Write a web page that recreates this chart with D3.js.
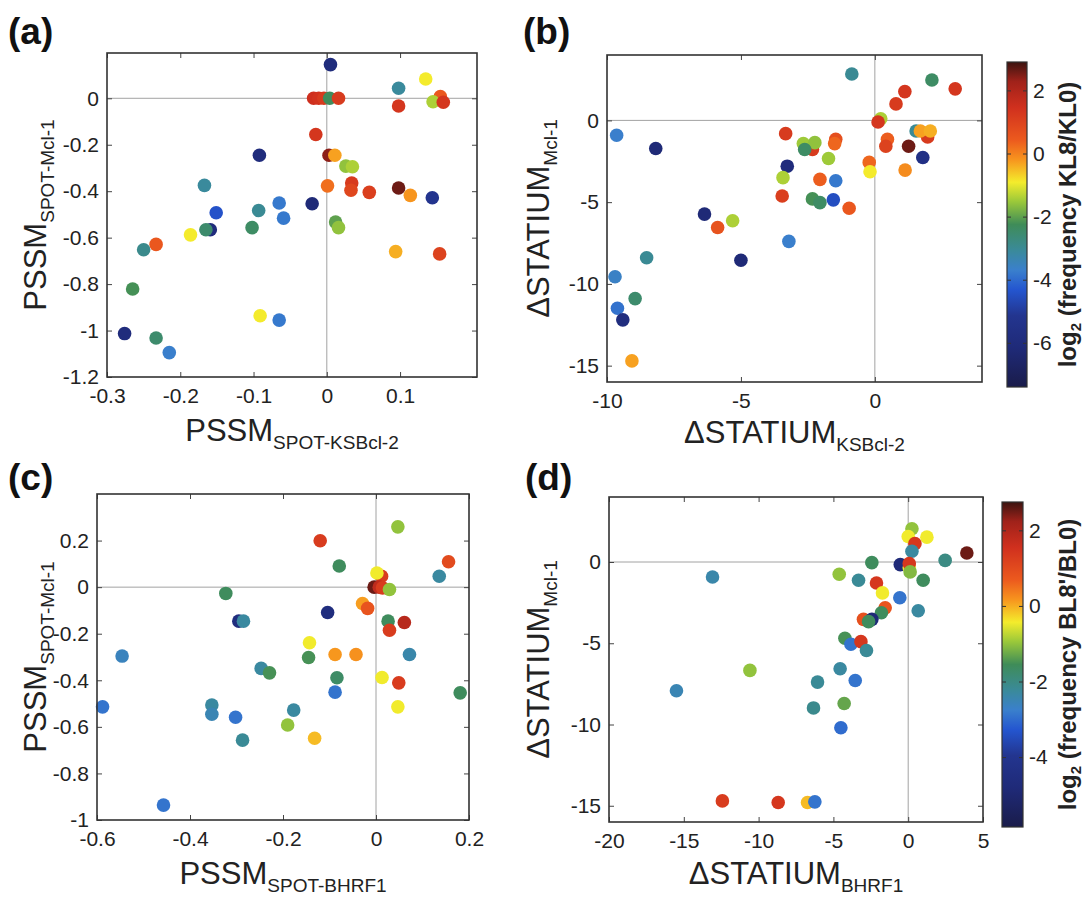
<!DOCTYPE html>
<html>
<head>
<meta charset="utf-8">
<script src="https://cdn.jsdelivr.net/npm/d3@7"></script>
<style>
body { margin: 0; background: #fff; }
svg { font-family: "Liberation Sans", Arial, sans-serif; }
</style>
</head>
<body>
<svg id="chart" width="1086" height="900"></svg>
<script>
// points are [x, y, log2 frequency]
var pointsA = [
  [0.005, 0.145, -6], [-0.018, 0, 1.5], [-0.011, 0, 1.4], [-0.004, 0, 1.2], [0.004, 0, -2.3], [0.016, 0, 1.2],
  [0.098, 0.043, -3.1], [0.135, 0.083, -0.9], [0.098, -0.033, 1.3], [0.155, 0.007, 0.5], [0.145, -0.015, -1.4],
  [0.159, -0.017, 1.3], [-0.015, -0.156, 1.3], [0.003, -0.245, 2.4], [0.011, -0.245, -0.3], [0.026, -0.292, -1.6],
  [0.035, -0.295, -1.4], [0.001, -0.377, 0.2], [0.034, -0.365, 1.2], [0.033, -0.396, 0.9], [0.058, -0.405, 1.1],
  [0.098, -0.386, 2.6], [0.114, -0.418, -0.2], [0.144, -0.428, -5.2], [-0.020, -0.454, -6.2], [-0.092, -0.245, -6],
  [-0.065, -0.451, -3.8], [-0.059, -0.516, -3.8], [-0.093, -0.483, -3.0], [-0.102, -0.557, -2.4], [0.012, -0.533, -2.0],
  [0.016, -0.557, -1.6], [0.094, -0.66, -0.4], [0.154, -0.67, 1.0], [-0.167, -0.375, -3.1], [-0.151, -0.493, -4.4],
  [-0.159, -0.566, -6], [-0.165, -0.566, -2.5], [-0.186, -0.588, -0.9], [-0.233, -0.629, 0.5], [-0.25, -0.652, -2.9],
  [-0.265, -0.821, -2.2], [-0.276, -1.013, -6], [-0.233, -1.032, -2.5], [-0.215, -1.095, -3.7], [-0.091, -0.936, -0.9],
  [-0.065, -0.955, -3.8]
];
var pointsB = [
  [-9.64, -0.91, -3.7], [-8.18, -1.72, -6.2], [-6.36, -5.73, -6.2], [-5.87, -6.55, 0.6], [-5.31, -6.14, -1.4],
  [-3.33, -0.81, 1.2], [-3.27, -2.8, -6], [-3.43, -3.5, -1.4], [-3.46, -4.62, 1.1], [-3.21, -7.4, -3.7],
  [-8.52, -8.4, -3.0], [-5.0, -8.55, -6.2], [-9.7, -9.56, -3.6], [-9.61, -11.49, -3.9], [-9.41, -12.2, -5.9],
  [-8.95, -10.9, -2.5], [-9.07, -14.71, -0.3], [-2.33, -4.8, -2.2], [-2.05, -5.03, -2.4], [-1.55, -4.86, -4.5],
  [-0.96, -5.37, 0.5], [-2.05, -3.61, 0.4], [-1.46, -3.69, -3.8], [-0.86, 2.84, -3.0], [2.13, 2.47, -2.4],
  [3.0, 1.93, 1.3], [1.12, 1.76, 1.3], [0.79, 1.01, 1.2], [0.22, 0.1, -1.4], [0.12, -0.1, 1.3],
  [-2.33, -1.78, 1.2], [-2.67, -1.42, -1.5], [-2.24, -1.36, -1.6], [-2.62, -1.78, -2.4], [-1.46, -1.15, 0.7],
  [-1.5, -1.42, 0.3], [-1.73, -2.33, -1.5], [-0.21, -2.57, 0.3], [-0.18, -3.14, -0.9], [0.47, -1.15, 0.4],
  [0.41, -1.58, 1.0], [1.26, -1.58, 2.6], [1.79, -2.27, -5.6], [1.13, -3.04, -0.1], [1.97, -1.01, 1.2],
  [1.54, -0.65, -3.0], [1.70, -0.65, -0.3], [2.07, -0.65, -0.4]
];
var pointsC = [
  [0.047, 0.259, -1.0], [-0.12, 0.199, 1.3], [0.156, 0.109, 1.0], [-0.079, 0.091, -1.6], [0.136, 0.047, -2.3],
  [0.012, 0.047, 1.3], [0.002, 0.061, -0.45], [-0.004, 0, 2.5], [0.007, 0, 1.8], [0.014, -0.003, 1.3],
  [0.029, -0.01, -1.0], [-0.323, -0.027, -1.6], [-0.029, -0.07, 0.1], [-0.018, -0.091, 0.8], [-0.104, -0.109, -4.6],
  [-0.295, -0.146, -4.6], [-0.285, -0.146, -2.3], [0.026, -0.146, -1.6], [0.029, -0.185, 1.3], [0.061, -0.152, 1.9],
  [-0.143, -0.239, -0.45], [-0.145, -0.302, -1.5], [-0.088, -0.289, 0.15], [-0.043, -0.289, 0.2], [0.072, -0.289, -2.4],
  [-0.546, -0.296, -2.6], [-0.247, -0.349, -2.3], [-0.229, -0.368, -1.5], [-0.084, -0.389, -1.7], [0.013, -0.388, -0.45],
  [0.049, -0.411, 1.3], [0.181, -0.454, -1.6], [-0.088, -0.451, -2.9], [-0.588, -0.514, -2.9], [-0.353, -0.506, -2.3],
  [-0.353, -0.546, -2.5], [-0.302, -0.559, -2.9], [-0.177, -0.528, -2.3], [-0.190, -0.592, -1.0], [0.047, -0.514, -0.45],
  [-0.132, -0.649, -0.1], [-0.287, -0.657, -2.2], [-0.457, -0.936, -2.9]
];
var pointsD = [
  [0.25, 2.05, -1.0], [0.0, 1.57, -0.45], [1.25, 1.53, -0.45], [0.45, 1.13, 1.4], [0.25, 0.66, -2.3],
  [3.92, 0.55, 2.5], [2.47, 0.1, -2.0], [-2.43, -0.04, -1.6], [-0.53, -0.16, -4.8], [0.07, -0.35, -0.45],
  [0.07, -0.1, 1.4], [0.13, -0.61, -1.1], [-4.61, -0.75, -1.0], [-3.32, -1.12, -2.2], [1.0, -1.12, -1.6],
  [-2.12, -1.29, 1.4], [-1.72, -1.9, -0.45], [-0.56, -2.2, -2.9], [0.67, -3.0, -2.3], [-1.54, -2.82, 0.8],
  [-1.79, -3.12, -1.6], [-2.99, -3.53, 0.9], [-2.43, -3.53, -4.8], [-2.65, -3.67, -1.6], [-4.23, -4.69, -1.5],
  [-3.83, -5.06, -2.9], [-3.16, -4.9, 1.4], [-2.79, -5.45, -2.2], [-4.55, -6.57, -2.3], [-3.54, -7.29, -2.9],
  [-6.06, -7.39, -2.2], [-6.33, -8.98, -2.1], [-4.28, -8.71, -1.3], [-4.5, -10.2, -3.0], [-10.58, -6.67, -1.0],
  [-13.08, -0.92, -2.4], [-15.49, -7.92, -2.5], [-12.42, -14.7, 1.3], [-8.69, -14.8, 1.4], [-6.73, -14.8, -0.1],
  [-6.24, -14.76, -2.9]
];

// tick values
var ticksAx = [-0.3, -0.2, -0.1, 0, 0.1];
var ticksAy = [-1.2, -1, -0.8, -0.6, -0.4, -0.2, 0];
var ticksBx = [-10, -5, 0];
var ticksBy = [-15, -10, -5, 0];
var ticksCx = [-0.6, -0.4, -0.2, 0, 0.2];
var ticksCy = [-1, -0.8, -0.6, -0.4, -0.2, 0, 0.2];
var ticksDx = [-20, -15, -10, -5, 0, 5];
var ticksDy = [-15, -10, -5, 0];
var ticksBar1 = [-6, -4, -2, 0, 2];
var ticksBar2 = [-4, -2, 0, 2];

// colour map (muted jet, as printed)
var cmapT = [0, 0.12, 0.22, 0.30, 0.36, 0.42, 0.50, 0.57, 0.63, 0.70, 0.76, 0.86, 0.94, 1];
var cmapC = ["#1a1c4a", "#1f2a78", "#23358f", "#2456d0", "#3a80cc", "#3a8a9a", "#3f8c58",
             "#9ac83a", "#f4ec2c", "#f7941e", "#ec5a1e", "#d0301e", "#a0221a", "#3c1410"];
var jet = d3.scaleLinear().domain(cmapT).range(cmapC).clamp(true);

var bar1Domain = [-7.4, 2.9];
var bar2Domain = [-5.85, 2.75];

var svg = d3.select("#chart");
var fmt = function(d) { return String(+d.toFixed(2)); };

function colorFor(dom) {
  var n = d3.scaleLinear().domain(dom).range([0, 1]);
  return function(v) { return jet(n(v)); };
}

function addTitle(g, x, y, main, sub, rotate) {
  var t = g.append("text")
    .attr("text-anchor", "middle")
    .attr("fill", "#222")
    .attr("transform", "translate(" + x + "," + y + ")" + (rotate ? " rotate(-90)" : ""));
  t.append("tspan").attr("font-size", 31).text(main);
  t.append("tspan").attr("font-size", 19).attr("dy", 8).text(sub);
}

function drawPanel(p) {
  var g = svg.append("g");
  var x = d3.scaleLinear().domain(p.xDomain).range([p.left, p.left + p.w]);
  var y = d3.scaleLinear().domain(p.yDomain).range([p.top + p.h, p.top]);
  var col = colorFor(p.cDomain);

  // zero lines
  g.append("line").attr("x1", p.left).attr("x2", p.left + p.w).attr("y1", y(0)).attr("y2", y(0))
    .attr("stroke", "#8a8a8a").attr("stroke-width", 0.8);
  g.append("line").attr("x1", x(0)).attr("x2", x(0)).attr("y1", p.top).attr("y2", p.top + p.h)
    .attr("stroke", "#8a8a8a").attr("stroke-width", 0.8);

  g.selectAll("circle.pt").data(p.data).join("circle")
    .attr("class", "pt")
    .attr("cx", function(d) { return x(d[0]); })
    .attr("cy", function(d) { return y(d[1]); })
    .attr("r", 6.8)
    .attr("fill", function(d) { return col(d[2]); });

  var axB = g.append("g").attr("transform", "translate(0," + (p.top + p.h) + ")")
    .call(d3.axisBottom(x).tickValues(p.xTicks).tickSize(-5).tickPadding(11).tickFormat(fmt));
  var axL = g.append("g").attr("transform", "translate(" + p.left + ",0)")
    .call(d3.axisLeft(y).tickValues(p.yTicks).tickSize(-5).tickPadding(8).tickFormat(fmt));
  var axT = g.append("g").attr("transform", "translate(0," + p.top + ")")
    .call(d3.axisTop(x).tickValues(p.xTicks).tickSize(-5).tickFormat(""));
  var axR = g.append("g").attr("transform", "translate(" + (p.left + p.w) + ",0)")
    .call(d3.axisRight(y).tickValues(p.yTicks).tickSize(-5).tickFormat(""));
  [axB, axL, axT, axR].forEach(function(a) {
    a.select(".domain").remove();
    a.selectAll("line").attr("stroke", "#444");
    a.selectAll("text").attr("font-size", 21).attr("fill", "#222").attr("font-family", null);
  });

  g.append("rect").attr("x", p.left).attr("y", p.top).attr("width", p.w).attr("height", p.h)
    .attr("fill", "none").attr("stroke", "#333").attr("stroke-width", 1.6);

  svg.append("text").attr("x", p.labelX).attr("y", p.labelY)
    .attr("font-size", 37).attr("font-weight", "bold").attr("fill", "#111").text(p.label);

  addTitle(g, p.left + p.w / 2, p.xTitleY, p.xTitle[0], p.xTitle[1], false);
  addTitle(g, p.yTitleX, p.top + p.h / 2, p.yTitle[0], p.yTitle[1], true);
}

function drawBar(b) {
  var id = "grad" + b.id;
  var grad = svg.append("defs").append("linearGradient").attr("id", id)
    .attr("x1", 0).attr("y1", 1).attr("x2", 0).attr("y2", 0);
  grad.selectAll("stop").data(cmapT).join("stop")
    .attr("offset", function(d) { return d; })
    .attr("stop-color", function(d, i) { return cmapC[i]; });
  var y = d3.scaleLinear().domain(b.domain).range([b.top + b.h, b.top]);
  var g = svg.append("g");
  g.append("rect").attr("x", b.left).attr("y", b.top).attr("width", b.w).attr("height", b.h)
    .attr("fill", "url(#" + id + ")").attr("stroke", "#333").attr("stroke-width", 1.2);
  var ax = g.append("g").attr("transform", "translate(" + (b.left + b.w) + ",0)")
    .call(d3.axisRight(y).tickValues(b.ticks).tickSize(-4).tickPadding(6).tickFormat(fmt));
  ax.select(".domain").remove();
  ax.selectAll("line").attr("stroke", "#333");
  ax.selectAll("text").attr("font-size", 21).attr("fill", "#222").attr("font-family", null);
  var ax2 = g.append("g").attr("transform", "translate(" + b.left + ",0)")
    .call(d3.axisLeft(y).tickValues(b.ticks).tickSize(-4).tickFormat(""));
  ax2.select(".domain").remove();
  ax2.selectAll("line").attr("stroke", "#333");

  var t = g.append("text").attr("text-anchor", "middle").attr("fill", "#222")
    .attr("font-size", 24).attr("font-weight", "bold")
    .attr("transform", "translate(" + b.labelX + "," + (b.top + b.h / 2) + ") rotate(-90)");
  t.append("tspan").text("log");
  t.append("tspan").attr("font-size", 15).attr("dy", 5).text("2");
  t.append("tspan").attr("dy", -5).text(" (frequency " + b.text + ")");
}

drawPanel({
  data: pointsA, left: 107, top: 53, w: 370, h: 324,
  xDomain: [-0.3, 0.205], yDomain: [-1.2, 0.195], xTicks: ticksAx, yTicks: ticksAy, cDomain: bar1Domain,
  label: "(a)", labelX: 8, labelY: 44, xTitleY: 441, yTitleX: 46,
  xTitle: ["PSSM", "SPOT-KSBcl-2"], yTitle: ["PSSM", "SPOT-Mcl-1"]
});
drawPanel({
  data: pointsB, left: 607, top: 55, w: 375, h: 327,
  xDomain: [-10, 4], yDomain: [-16, 4], xTicks: ticksBx, yTicks: ticksBy, cDomain: bar1Domain,
  label: "(b)", labelX: 523, labelY: 44, xTitleY: 443, yTitleX: 549,
  xTitle: ["\u0394STATIUM", "KSBcl-2"], yTitle: ["\u0394STATIUM", "Mcl-1"]
});
drawPanel({
  data: pointsC, left: 97, top: 494, w: 372, h: 326,
  xDomain: [-0.6, 0.2], yDomain: [-1, 0.4], xTicks: ticksCx, yTicks: ticksCy, cDomain: bar2Domain,
  label: "(c)", labelX: 8, labelY: 490, xTitleY: 884, yTitleX: 46,
  xTitle: ["PSSM", "SPOT-BHRF1"], yTitle: ["PSSM", "SPOT-Mcl-1"]
});
drawPanel({
  data: pointsD, left: 609, top: 497, w: 374, h: 325,
  xDomain: [-20, 5], yDomain: [-16, 4], xTicks: ticksDx, yTicks: ticksDy, cDomain: bar2Domain,
  label: "(d)", labelX: 525, labelY: 490, xTitleY: 884, yTitleX: 549,
  xTitle: ["\u0394STATIUM", "BHRF1"], yTitle: ["\u0394STATIUM", "Mcl-1"]
});

drawBar({ id: 1, left: 1007, top: 62, w: 20, h: 325, domain: bar1Domain, ticks: ticksBar1,
  labelX: 1076, text: "KL8/KL0" });
drawBar({ id: 2, left: 1002, top: 502, w: 21, h: 325, domain: bar2Domain, ticks: ticksBar2,
  labelX: 1076, text: "BL8'/BL0" });
</script>
</body>
</html>
